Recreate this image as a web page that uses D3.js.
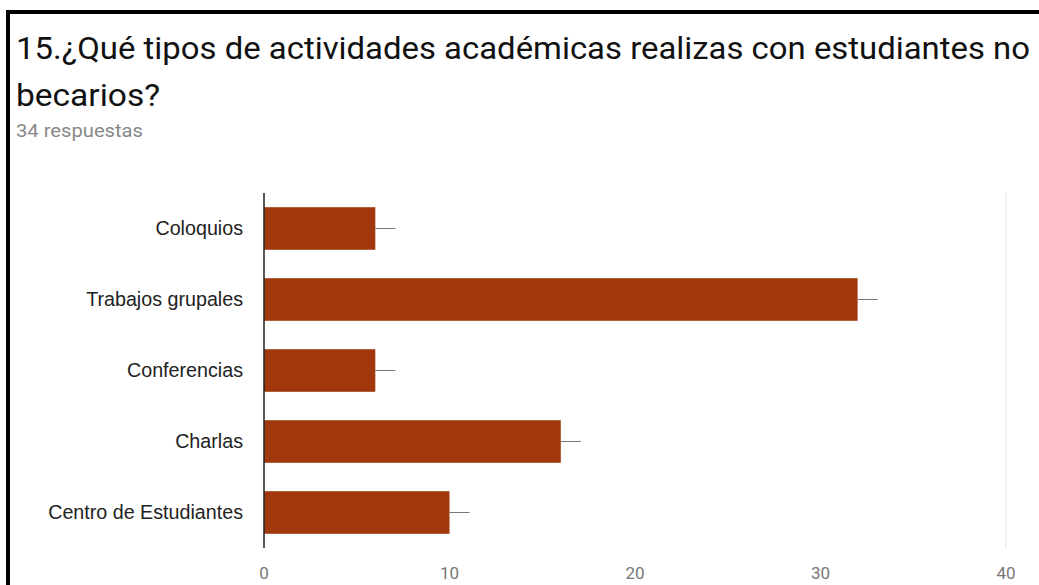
<!DOCTYPE html>
<html><head><meta charset="utf-8">
<script src="https://cdn.jsdelivr.net/npm/d3@7"></script>
<style>body{margin:0;background:#fff}svg{display:block}</style>
</head><body>
<svg id="c" width="1039" height="585"></svg>
<script>
const categories = ["Coloquios","Trabajos grupales","Conferencias","Charlas","Centro de Estudiantes"];
const values = [6, 32, 6, 16, 10];
const ticks = [0, 10, 20, 30, 40];
const titleLines = ["15.¿Qué tipos de actividades académicas realizas con estudiantes no","becarios?"];
const subtitle = "34 respuestas";

const svg = d3.select("#c");
svg.append("rect").attr("x",0).attr("y",0).attr("width",1039).attr("height",585).attr("fill","#fff");
// frame
svg.append("rect").attr("x",8).attr("y",12).attr("width",1100).attr("height",700)
  .attr("fill","none").attr("stroke","#000").attr("stroke-width",4);

const titleW = [1014, 144];
svg.selectAll("text.title").data(titleLines).join("text").attr("class","title")
  .attr("x",16).attr("y",(d,i)=>59+i*47)
  .attr("font-family","Roboto, sans-serif").attr("font-size",32).attr("fill","#111")
  .attr("textLength",(d,i)=>titleW[i]).attr("lengthAdjust","spacingAndGlyphs")
  .text(d=>d);
svg.append("text").attr("x",16).attr("y",137).attr("font-family","Roboto, sans-serif")
  .attr("font-size",18).attr("fill","#888")
  .attr("textLength",127).attr("lengthAdjust","spacingAndGlyphs").text(subtitle);

const x = d3.scaleLinear().domain([0,40]).range([264,1006]);
const y = d3.scaleBand().domain(categories).range([193,548]).paddingInner(0.4).paddingOuter(0.2);

// gridline at max
svg.append("line").attr("x1",x(40)).attr("x2",x(40)).attr("y1",193).attr("y2",548)
  .attr("stroke","#ececec").attr("stroke-width",1.5);

const g = svg.append("g");
g.selectAll("rect.bar").data(categories).join("rect").attr("class","bar")
  .attr("x",x(0)).attr("y",d=>y(d)).attr("height",y.bandwidth())
  .attr("width",(d,i)=>x(values[i])-x(0)).attr("fill","#a0380c");
g.selectAll("line.wh").data(categories).join("line").attr("class","wh")
  .attr("x1",(d,i)=>x(values[i])).attr("x2",(d,i)=>x(values[i])+20)
  .attr("y1",d=>y(d)+y.bandwidth()/2).attr("y2",d=>y(d)+y.bandwidth()/2)
  .attr("stroke","#777").attr("stroke-width",1);

// y axis line
svg.append("line").attr("x1",x(0)).attr("x2",x(0)).attr("y1",193).attr("y2",548)
  .attr("stroke","#222").attr("stroke-width",1.5);

svg.selectAll("text.cat").data(categories).join("text").attr("class","cat")
  .attr("x",243).attr("y",d=>y(d)+y.bandwidth()/2).attr("dy","0.35em")
  .attr("text-anchor","end").attr("font-family","Arial, 'Liberation Sans', sans-serif")
  .attr("font-size",19.7).attr("fill","#222").text(d=>d);

svg.selectAll("text.tick").data(ticks).join("text").attr("class","tick")
  .attr("x",d=>x(d)).attr("y",579).attr("text-anchor","middle")
  .attr("font-family","Roboto, sans-serif").attr("font-size",17).attr("fill","#777").text(d=>d);
</script>
</body></html>
